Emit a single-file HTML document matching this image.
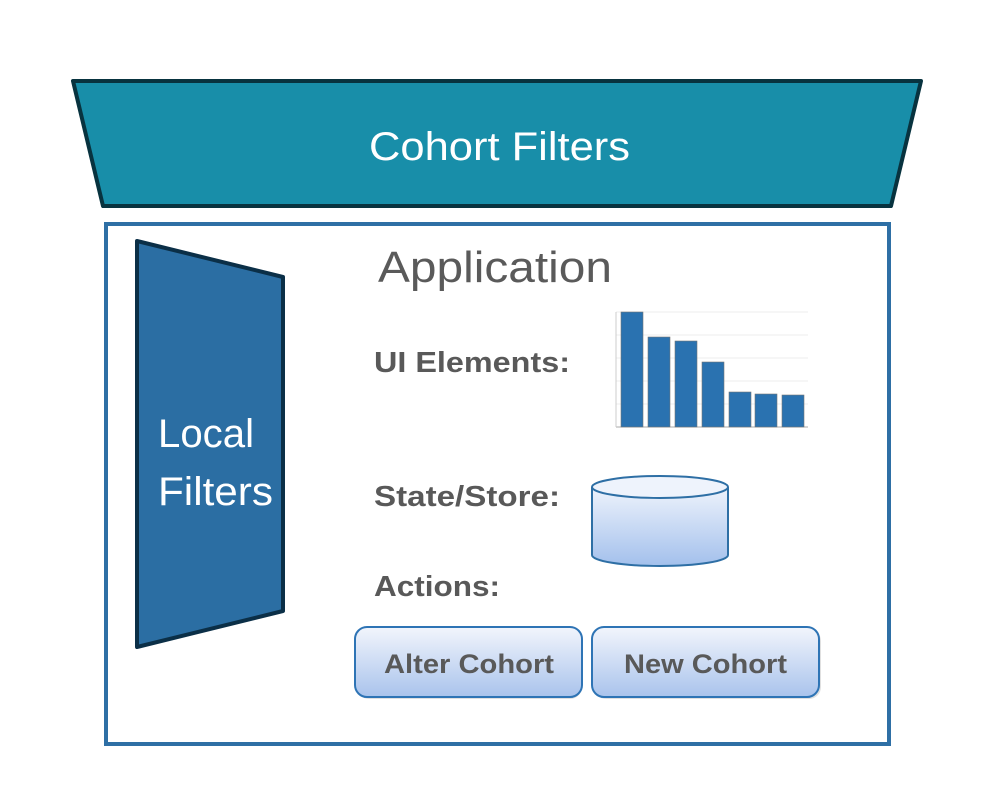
<!DOCTYPE html>
<html><head><meta charset="utf-8"><style>
body{margin:0;background:#fff}
svg text{font-family:"Liberation Sans","DejaVu Sans",sans-serif}
</style></head><body>
<svg width="983" height="799" viewBox="0 0 983 799" xmlns="http://www.w3.org/2000/svg">
<defs>
<linearGradient id="g" x1="0" y1="0" x2="0" y2="1">
<stop offset="0" stop-color="#f2f5fc"/><stop offset="1" stop-color="#a9c3ec"/>
</linearGradient>
<linearGradient id="c" x1="0" y1="0" x2="0" y2="1">
<stop offset="0" stop-color="#eef3fc"/><stop offset="1" stop-color="#a3c0ec"/>
</linearGradient>
</defs>
<polygon points="73,81 921,81 891,206 103,206" fill="#188EA9" stroke="#08333F" stroke-width="4" stroke-linejoin="round"/>
<text x="369" y="160" font-size="40" fill="#fff" textLength="261" lengthAdjust="spacingAndGlyphs">Cohort Filters</text>
<rect x="106" y="224" width="783" height="520" fill="#fff" stroke="#2E6FA5" stroke-width="4"/>
<polygon points="137,241 283,277 283,611 137,647" fill="#2B6EA3" stroke="#0B2F47" stroke-width="4" stroke-linejoin="round"/>
<text x="158" y="447" font-size="40" fill="#fff" textLength="96" lengthAdjust="spacingAndGlyphs">Local</text>
<text x="158" y="505" font-size="40" fill="#fff" textLength="115" lengthAdjust="spacingAndGlyphs">Filters</text>
<text x="378" y="282" font-size="44" fill="#5a5a5a" textLength="234" lengthAdjust="spacingAndGlyphs">Application</text>
<text x="374" y="372" font-size="29" font-weight="bold" fill="#595959" textLength="196" lengthAdjust="spacingAndGlyphs">UI Elements:</text>
<text x="374" y="506" font-size="29" font-weight="bold" fill="#595959" textLength="186" lengthAdjust="spacingAndGlyphs">State/Store:</text>
<text x="374" y="596" font-size="29" font-weight="bold" fill="#595959" textLength="126" lengthAdjust="spacingAndGlyphs">Actions:</text>
<g stroke="#eee" stroke-width="1">
<line x1="616" y1="312" x2="808" y2="312"/><line x1="616" y1="335" x2="808" y2="335"/>
<line x1="616" y1="358" x2="808" y2="358"/><line x1="616" y1="381" x2="808" y2="381"/>
<line x1="616" y1="404" x2="808" y2="404"/>
</g>
<line x1="616" y1="427" x2="808" y2="427" stroke="#aaa"/>
<line x1="616" y1="312" x2="616" y2="427" stroke="#ccc"/>
<g fill="#2A72B0" stroke="#777" stroke-width="0.6">
<rect x="621" y="312" width="22" height="115"/>
<rect x="648" y="337" width="22" height="90"/>
<rect x="675" y="341" width="22" height="86"/>
<rect x="702" y="362" width="22" height="65"/>
<rect x="729" y="392" width="22" height="35"/>
<rect x="755" y="394" width="22" height="33"/>
<rect x="782" y="395" width="22" height="32"/>
</g>
<path d="M592,487 L592,555 A68,11 0 0 0 728,555 L728,487" fill="url(#c)" stroke="#2E6FA5" stroke-width="2"/>
<ellipse cx="660" cy="487" rx="68" ry="11" fill="#eef3fc" stroke="#2E6FA5" stroke-width="2"/>
<rect x="357" y="629" width="225" height="70" rx="12" fill="#000" opacity="0.12"/>
<rect x="594" y="629" width="227" height="70" rx="12" fill="#000" opacity="0.12"/>
<rect x="355" y="627" width="227" height="70" rx="12" fill="url(#g)" stroke="#2E74B5" stroke-width="2"/>
<rect x="592" y="627" width="227" height="70" rx="12" fill="url(#g)" stroke="#2E74B5" stroke-width="2"/>
<text x="384" y="673" font-size="27" font-weight="bold" fill="#595959" textLength="170" lengthAdjust="spacingAndGlyphs">Alter Cohort</text>
<text x="624" y="673" font-size="27" font-weight="bold" fill="#595959" textLength="163" lengthAdjust="spacingAndGlyphs">New Cohort</text>
</svg>
</body></html>
